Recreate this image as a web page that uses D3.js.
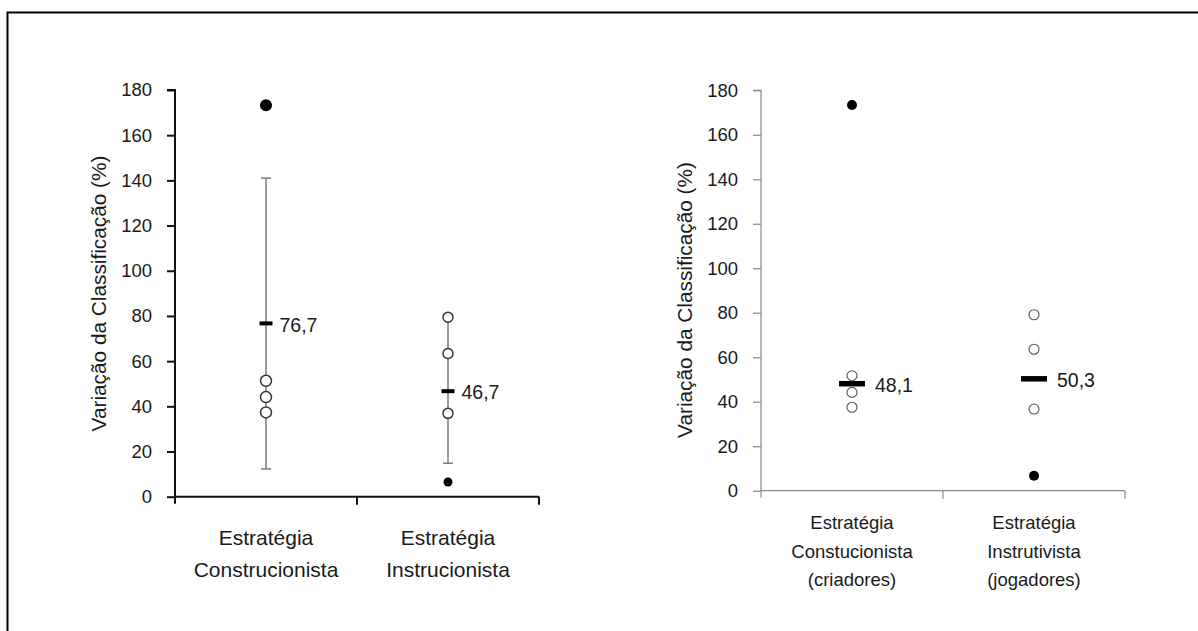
<!DOCTYPE html>
<html>
<head>
<meta charset="utf-8">
<script src="https://cdn.jsdelivr.net/npm/d3@7"></script>
<style>
  body { margin: 0; background: #fff; }
  svg { display: block; font-family: "Liberation Sans", Arial, sans-serif; }
</style>
</head>
<body>
<div id="chart"></div>
<script>
// tick values shared by both panels
const yTicks = [0, 20, 40, 60, 80, 100, 120, 140, 160, 180];
const yTitle = "Variação da Classificação (%)";

// left panel
const leftCats = [["Estratégia", "Construcionista"], ["Estratégia", "Instrucionista"]];
const leftOpen = [[51.3, 44.1, 37.3], [79.4, 63.4, 36.9]];
const leftFilled = [[173.3], [6.5]];
const leftMean = [76.7, 46.7];
const leftErrLow = [12.3, 14.8];
const leftErrHigh = [141.0, 78.6];

// right panel
const rightCats = [["Estratégia", "Constucionista", "(criadores)"], ["Estratégia", "Instrutivista", "(jogadores)"]];
const rightOpen = [[51.7, 44.2, 37.5], [79.1, 63.6, 36.7]];
const rightFilled = [[173.4], [6.7]];
const rightMean = [48.1, 50.3];

const width = 1198;
const height = 631;

const svg = d3.select("#chart").append("svg")
  .attr("width", width)
  .attr("height", height);

// outer frame (runs off the right and bottom edges)
svg.append("rect")
  .attr("x", 7.5).attr("y", 12.5)
  .attr("width", 1300).attr("height", 700)
  .attr("fill", "none")
  .attr("stroke", "#000")
  .attr("stroke-width", 2);

const textColor = "#1a1a1a";

function panel(opts) {
  const idx = opts.cats.map((d, i) => i);
  const x = d3.scaleBand().domain(idx).range([opts.x0, opts.x1]);
  const y = d3.scaleLinear().domain([0, 180]).range([opts.y0, opts.y1]);
  const g = svg.append("g");

  // y axis
  const yAxis = g.append("g")
    .attr("transform", "translate(" + opts.x0 + ",0)")
    .call(d3.axisLeft(y).tickValues(yTicks).tickSize(8).tickPadding(15));
  yAxis.selectAll("path, line").attr("stroke", opts.axisColor).attr("stroke-width", opts.axisWidth);
  yAxis.select(".domain").attr("d", "M0," + (opts.y0 + 7) + "V" + opts.y1 + "H-8");
  yAxis.selectAll("text")
    .attr("fill", textColor)
    .style("font-size", "18.5px");

  // x axis: line with boundary ticks going down
  const xg = g.append("g");
  xg.append("line")
    .attr("x1", opts.x0).attr("x2", opts.x1)
    .attr("y1", y(0)).attr("y2", y(0))
    .attr("stroke", opts.axisColor).attr("stroke-width", opts.axisWidth);
  const bounds = idx.map((i) => x(i)).concat([opts.x1]);
  xg.selectAll("line.b").data(bounds.slice(1)).join("line")
    .attr("class", "b")
    .attr("x1", (d) => d).attr("x2", (d) => d)
    .attr("y1", y(0)).attr("y2", y(0) + 8)
    .attr("stroke", opts.axisColor).attr("stroke-width", opts.axisWidth);

  // category labels
  idx.forEach((i) => {
    const t = g.append("text")
      .attr("text-anchor", "middle")
      .attr("fill", textColor)
      .style("font-size", opts.catFont + "px");
    opts.cats[i].forEach((line, k) => {
      t.append("tspan")
        .attr("x", x(i) + x.bandwidth() / 2)
        .attr("y", opts.catY + k * opts.catStep)
        .text(line);
    });
  });

  // y title
  g.append("text")
    .attr("transform", "translate(" + opts.titleX + "," + opts.titleY + ") rotate(-90)")
    .attr("text-anchor", "middle")
    .attr("fill", textColor)
    .style("font-size", "20.8px")
    .text(yTitle);

  const cx = (i) => x(i) + x.bandwidth() / 2;

  // error bars
  if (opts.errLow) {
    idx.forEach((i) => {
      const eg = g.append("g").attr("stroke", "#7a7a7a").attr("stroke-width", 1.5);
      eg.append("line").attr("x1", cx(i)).attr("x2", cx(i))
        .attr("y1", y(opts.errLow[i])).attr("y2", y(opts.errHigh[i]));
      [opts.errLow[i], opts.errHigh[i]].forEach((v) => {
        eg.append("line").attr("x1", cx(i) - 5).attr("x2", cx(i) + 5)
          .attr("y1", y(v)).attr("y2", y(v));
      });
    });
  }

  // mean bars and labels
  idx.forEach((i) => {
    g.append("rect")
      .attr("x", cx(i) - opts.barW / 2)
      .attr("y", y(opts.mean[i]) - opts.barH / 2)
      .attr("width", opts.barW).attr("height", opts.barH)
      .attr("fill", "#000");
    g.append("text")
      .attr("x", cx(i) + opts.barW / 2 + opts.labelGap)
      .attr("y", y(opts.mean[i]))
      .attr("dy", "0.42em")
      .attr("fill", textColor)
      .style("font-size", "19.5px")
      .text(d3.format(".1f")(opts.mean[i]).replace(".", ","));
  });

  // points
  idx.forEach((i) => {
    g.selectAll(null).data(opts.open[i]).join("circle")
      .attr("cx", cx(i)).attr("cy", (d) => y(d))
      .attr("r", opts.openR[i])
      .attr("fill", "#fff")
      .attr("stroke", opts.openStroke)
      .attr("stroke-width", opts.openW);
    g.selectAll(null).data(opts.filled[i]).join("circle")
      .attr("cx", cx(i)).attr("cy", (d) => y(d))
      .attr("r", opts.filledR[i])
      .attr("fill", "#000");
  });
}

panel({
  cats: leftCats, open: leftOpen, filled: leftFilled, mean: leftMean,
  errLow: leftErrLow, errHigh: leftErrHigh,
  x0: 175, x1: 539, y0: 496.7, y1: 90,
  axisColor: "#111", axisWidth: 2,
  catFont: 21, catY: 545, catStep: 31.7,
  titleX: 106, titleY: 293.5,
  barW: 13, barH: 4, labelGap: 7,
  openR: [5.5, 5], openStroke: "#333", openW: 1.5,
  filledR: [6, 4.5]
});

panel({
  cats: rightCats, open: rightOpen, filled: rightFilled, mean: rightMean,
  x0: 761, x1: 1125, y0: 490.7, y1: 90.3,
  axisColor: "#8a8a8a", axisWidth: 1.2,
  catFont: 18.5, catY: 529, catStep: 28.5,
  titleX: 692, titleY: 300,
  barW: 26, barH: 5.5, labelGap: 10,
  openR: [5, 5], openStroke: "#555", openW: 1.1,
  filledR: [5, 5]
});
</script>
</body>
</html>
